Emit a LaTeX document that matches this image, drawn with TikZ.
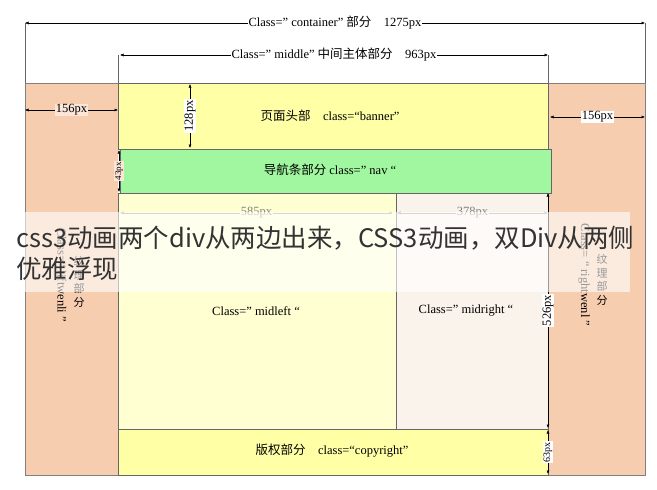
\documentclass[tikz,border=0pt]{standalone}
\usepackage{fontspec}
\setmainfont{Liberation Serif}
\newfontfamily\cjk{Noto Sans CJK SC}
\newcommand{\zh}[1]{{\cjk #1}}
\usetikzlibrary{arrows.meta}
\definecolor{salmon}{HTML}{F7CDB0}
\definecolor{bannery}{HTML}{FFFFA6}
\definecolor{navg}{HTML}{A0F7A0}
\definecolor{leftc}{HTML}{FFFFD2}
\definecolor{rightc}{HTML}{FAF3EC}
\tikzset{
  box/.style={draw=black!60, line width=0.6pt},
  dim/.style={draw=black, line width=0.5pt, {Latex[length=3.5pt,width=3pt]}-{Latex[length=3.5pt,width=3pt]}},
  lbl/.style={font=\fontsize{12.5}{14}\selectfont, inner sep=1pt, fill=white},
  ctext/.style={font=\fontsize{12.5}{14}\selectfont},
}
\begin{document}
\begin{tikzpicture}[x=1pt,y=-1pt]
\useasboundingbox (0,0) rectangle (657,490);
\fill[white] (0,0) rectangle (657,490);
% regions
\fill[salmon] (25,83) rectangle (118,475);
\fill[salmon] (548,83) rectangle (645,475);
\draw[black!40] (25,83) -- (645,83);
\draw[black!50] (25,83) rectangle (645,475);
\node[box, fill=bannery, minimum width=430pt, minimum height=66pt, anchor=north west] (banner) at (118,83) {};
\node[box, fill=leftc, minimum width=278pt, minimum height=236pt, anchor=north west] (midleft) at (118,193) {};
\node[box, fill=rightc, minimum width=152pt, minimum height=236pt, anchor=north west] (midright) at (396,193) {};
\node[box, fill=bannery, minimum width=430pt, minimum height=46pt, anchor=north west] (copy) at (118,429) {};
\node[box, fill=navg, minimum width=431pt, minimum height=44pt, anchor=north west] (nav) at (120,149) {};
% texts
\node[ctext] at (330,116) {\zh{页面头部}\quad class=“banner”};
\node[ctext] at (330,170) {\zh{导航条部分} class=” nav “};
\node[ctext] at (256,311) {Class=” midleft “};
\node[ctext] at (466,311) {Class=” midright “};
\node[ctext] at (332,451) {\zh{版权部分}\quad class=“copyright”};
\node[ctext, rotate=-90] at (62,275) {Class=“ liftwenli ”};
\node[align=center, font=\fontsize{11}{13.5}\selectfont\cjk, inner sep=0pt] at (79,282) {纹\\理\\部\\分};
\node[ctext, rotate=-90] at (584,275) {Class= “ rightwenl ”};
\node[align=center, font=\fontsize{11}{13.5}\selectfont\cjk, inner sep=0pt] at (602,280) {纹\\理\\部\\分};
% dimension guide lines
\coordinate (c1) at (25,23); \coordinate (c2) at (645,23);
\coordinate (m1) at (120,55); \coordinate (m2) at (548,55);
\draw[black!60] (25,23) -- (25,83) (645,23) -- (645,83) (118,55) -- (118,83) (548,55) -- (548,83);
\draw[dim] (c1) -- node[lbl]{Class=” container” \zh{部分}\quad 1275px} (c2);
\draw[dim] (m1) -- node[lbl]{Class=” middle” \zh{中间主体部分}\quad 963px} (m2);
\draw[dim] (25,110) -- node[lbl, fill=salmon!50]{156px} (118,110);
\draw[dim] (550,117) -- node[lbl]{156px} (645,117);
\draw[dim] (190,84) -- node[lbl, rotate=90]{128px} (190,148);
\draw[dim] (119,150) -- node[lbl, rotate=90, fill=salmon!50, font=\fontsize{9}{10}\selectfont]{43px} (119,192);
\draw[dim, draw=black!40] (120,213) -- node[lbl, fill=leftc, text=black!50]{585px} (393,213);
\draw[dim, draw=black!40] (397,213) -- node[lbl, fill=rightc, text=black!50]{378px} (548,213);
\draw[dim] (548,193) -- node[lbl, rotate=90]{526px} (548,428);
\draw[dim] (548,430) -- node[lbl, rotate=90, font=\fontsize{10}{11}\selectfont]{63px} (548,474);
% watermark band
\fill[white, opacity=0.6] (25,212) rectangle (630,292);
\node[font=\cjk\fontsize{25.5}{31}\selectfont, text=black!80, anchor=west, align=left, inner sep=0pt] at (16,253) {css3动画两个div从两边出来，CSS3动画，双Div从两侧\\优雅浮现};
\end{tikzpicture}
\end{document}
